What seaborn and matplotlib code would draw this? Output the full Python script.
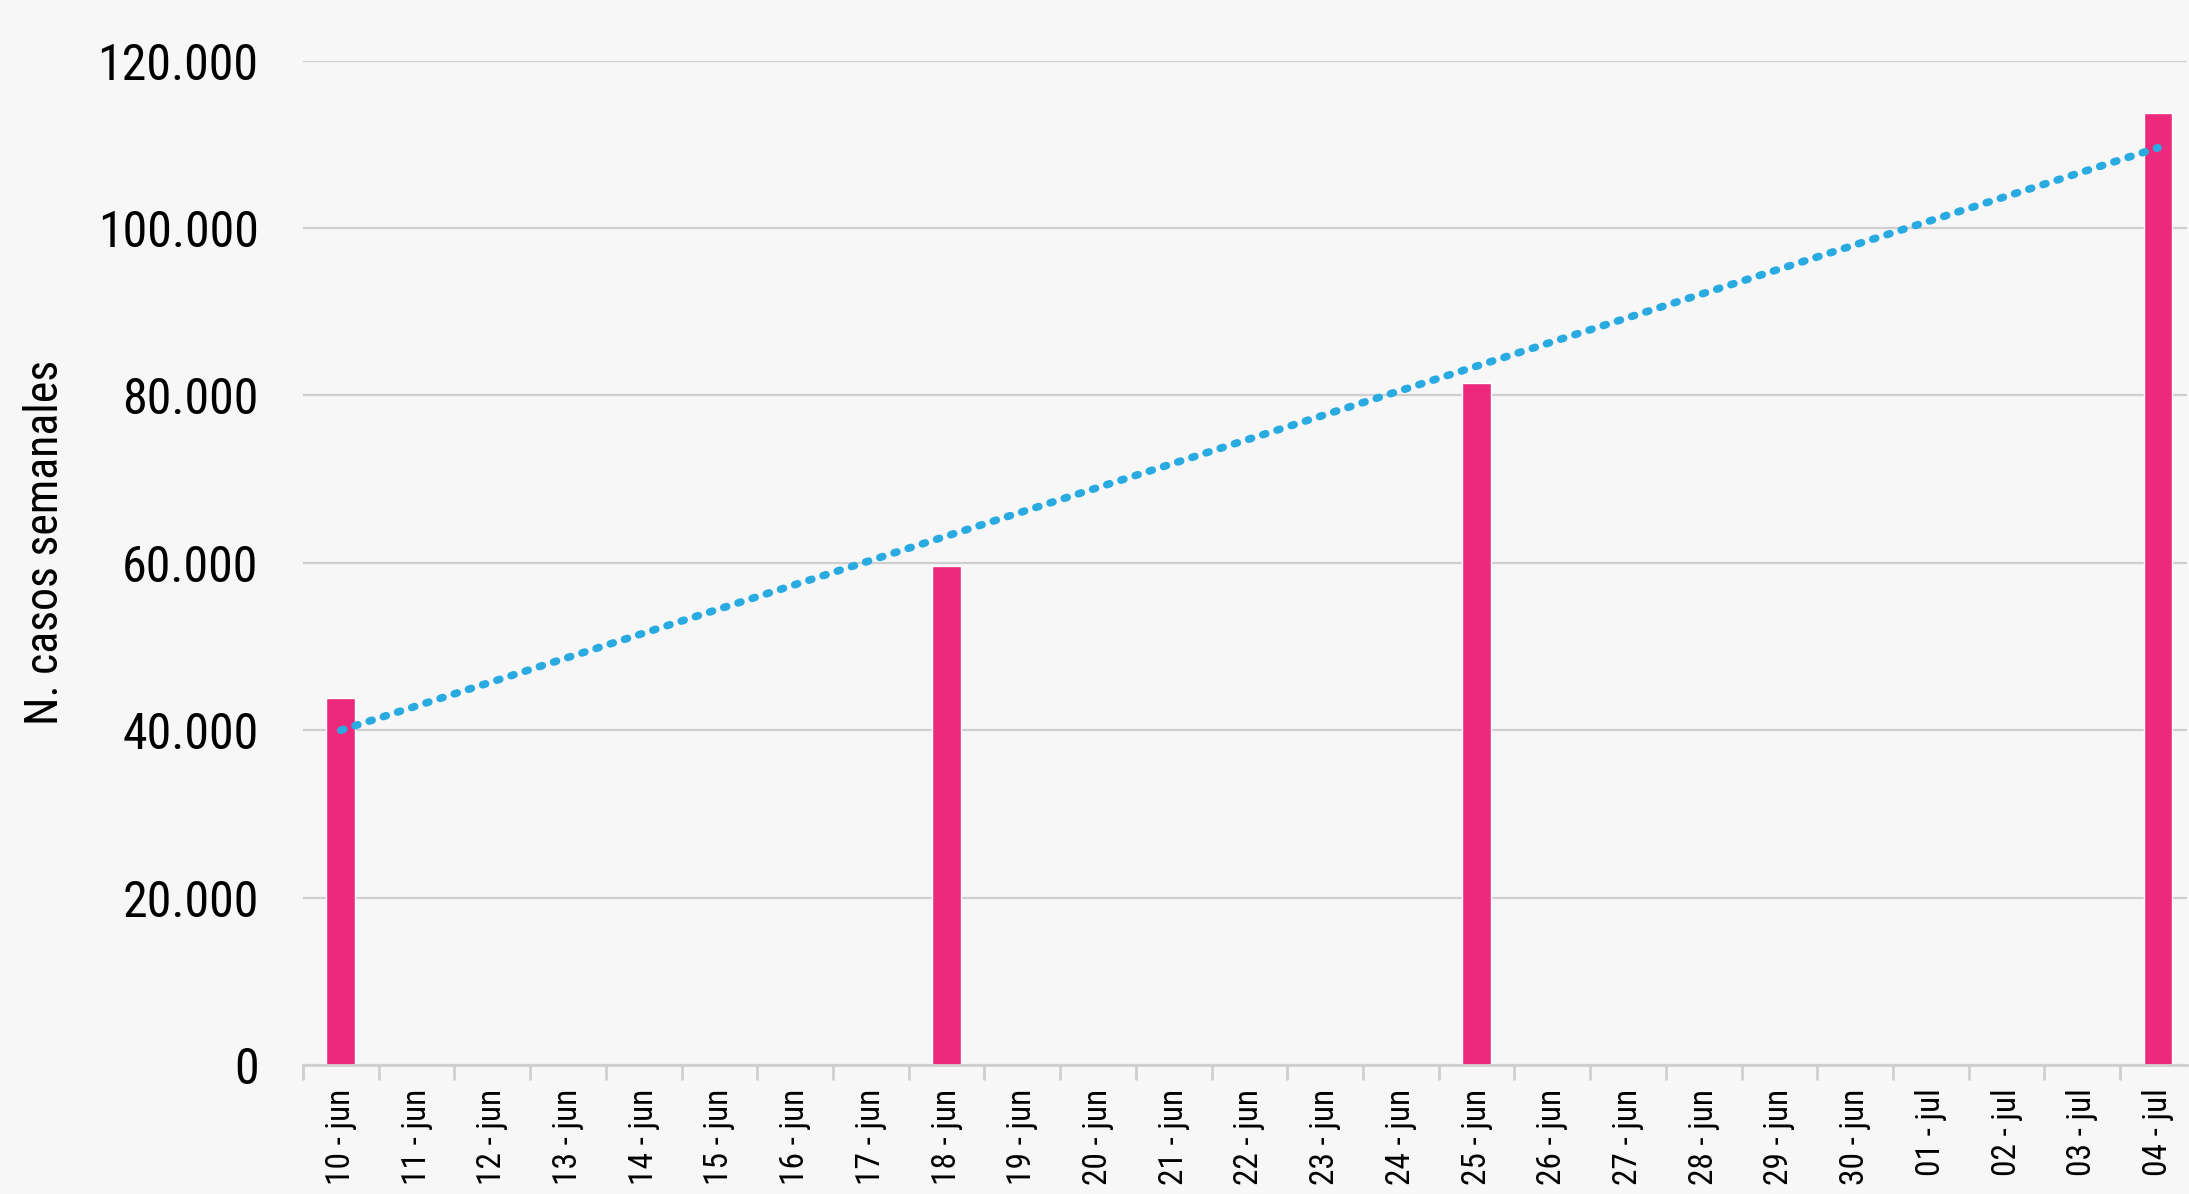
import matplotlib
matplotlib.use("Agg")
import matplotlib.pyplot as plt
from matplotlib.ticker import FuncFormatter, MultipleLocator
import numpy as np
import pandas as pd
import seaborn as sns

# Daily categories on the x axis
dates = ["10 - jun", "11 - jun", "12 - jun", "13 - jun", "14 - jun", "15 - jun",
         "16 - jun", "17 - jun", "18 - jun", "19 - jun", "20 - jun", "21 - jun",
         "22 - jun", "23 - jun", "24 - jun", "25 - jun", "26 - jun", "27 - jun",
         "28 - jun", "29 - jun", "30 - jun", "01 - jul", "02 - jul", "03 - jul",
         "04 - jul"]

# Weekly case counts, reported on four dates
report_dates = ["10 - jun", "18 - jun", "25 - jun", "04 - jul"]
weekly_cases = [43800, 59600, 81500, 113800]

# Linear trend line, start and end values
trend_dates = ["10 - jun", "04 - jul"]
trend_values = [40000, 109600]

BG = "#f7f7f7"
BAR = "#ec297b"
TREND = "#29abe2"
GRID = "#cfcfcf"
FONT = ["DejaVu Sans Condensed", "Liberation Sans Narrow", "Roboto Condensed",
        "DejaVu Sans"]

sns.set_theme(style="white")
plt.rcParams["font.family"] = FONT
plt.rcParams["font.stretch"] = "condensed"

df = pd.DataFrame({"fecha": report_dates, "casos": weekly_cases})

fig = plt.figure(figsize=(21.89, 11.94), dpi=100, facecolor=BG)
ax = fig.add_axes([0.1384, 0.108, 0.8606, 0.8412])
ax.set_facecolor(BG)

sns.barplot(data=df, x="fecha", y="casos", order=dates, color=BAR,
            width=0.38, saturation=1, ax=ax, zorder=3)

tx = [dates.index(d) for d in trend_dates]
ax.plot(tx, trend_values, color=TREND, lw=5.5, linestyle=(0, (0.4, 1.55)),
        dash_capstyle="round", zorder=4)

ax.set_ylim(0, 120000)
ax.set_xlim(-0.5, 24.38)
ax.yaxis.set_major_locator(MultipleLocator(20000))
ax.yaxis.set_major_formatter(FuncFormatter(lambda v, p: f"{int(v):,}".replace(",", ".")))
ax.grid(axis="y", color=GRID, lw=1.6, zorder=0)
ax.set_axisbelow(True)

for s in ["top", "right", "left"]:
    ax.spines[s].set_visible(False)
ax.spines["bottom"].set_color(GRID)
ax.spines["bottom"].set_linewidth(2)
ax.spines["bottom"].set_zorder(5)

# Tick marks sit on the boundaries between days
ax.set_xticks(np.arange(len(dates)))
ax.set_xticklabels(dates, rotation=90, fontsize=24, va="top", ha="center",
                   color="black")
ax.set_xticks(np.arange(len(dates)) - 0.5, minor=True)
ax.tick_params(axis="x", which="major", length=0, pad=17)
ax.tick_params(axis="x", which="minor", length=11, width=2, color=GRID,
               direction="out", bottom=True)
ax.tick_params(axis="y", length=0, pad=32, labelsize=36, labelcolor="black")

ax.set_xlabel("")
ax.set_ylabel("N. casos semanales", fontsize=33, color="black")
ax.yaxis.label.set_va("center")
ax.yaxis.set_label_coords(-0.137, 0.52)

fig.savefig("out.png", dpi=100, facecolor=BG)
